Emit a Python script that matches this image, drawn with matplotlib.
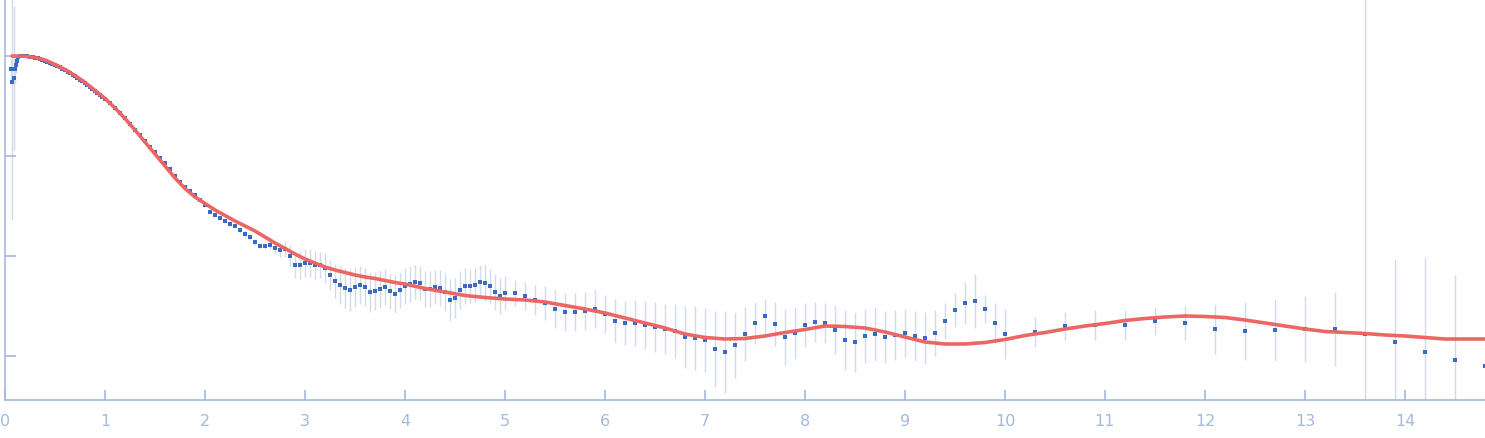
import matplotlib

matplotlib.use("Agg")
import matplotlib.pyplot as plt
import numpy as np

# scattering vector values
q = [
    # lowest angles
    0.06, 0.075, 0.085, 0.10, 0.11, 0.12, 0.13,
    # dense part
    0.15, 0.175, 0.2, 0.225, 0.25, 0.275, 0.3, 0.325, 0.35, 0.375,
    0.4, 0.425, 0.45, 0.475, 0.5, 0.525, 0.55, 0.575, 0.6, 0.625,
    0.65, 0.675, 0.7, 0.725, 0.75, 0.775, 0.8, 0.825, 0.85, 0.875,
    0.9, 0.925, 0.95, 0.975, 1.0,
    # step 0.05
    1.05, 1.10, 1.15, 1.20, 1.25, 1.30, 1.35, 1.40, 1.45, 1.50,
    1.55, 1.60, 1.65, 1.70, 1.75, 1.80, 1.85, 1.90, 1.95, 2.00,
    2.05, 2.10, 2.15, 2.20, 2.25, 2.30, 2.35, 2.40, 2.45, 2.50,
    2.55, 2.60, 2.65, 2.70, 2.75, 2.80, 2.85, 2.90, 2.95, 3.00,
    3.05, 3.10, 3.15, 3.20, 3.25, 3.30, 3.35, 3.40, 3.45, 3.50,
    3.55, 3.60, 3.65, 3.70, 3.75, 3.80, 3.85, 3.90, 3.95, 4.00,
    4.05, 4.10, 4.15, 4.20, 4.25, 4.30, 4.35, 4.40, 4.45, 4.50,
    4.55, 4.60, 4.65, 4.70, 4.75, 4.80, 4.85, 4.90, 4.95, 5.00,
    # step 0.1
    5.1, 5.2, 5.3, 5.4, 5.5, 5.6, 5.7, 5.8, 5.9, 6.0,
    6.1, 6.2, 6.3, 6.4, 6.5, 6.6, 6.7, 6.8, 6.9, 7.0,
    7.1, 7.2, 7.3, 7.4, 7.5, 7.6, 7.7, 7.8, 7.9, 8.0,
    8.1, 8.2, 8.3, 8.4, 8.5, 8.6, 8.7, 8.8, 8.9, 9.0,
    9.1, 9.2, 9.3, 9.4, 9.5, 9.6, 9.7, 9.8, 9.9, 10.0,
    # step 0.3
    10.3, 10.6, 10.9, 11.2, 11.5, 11.8, 12.1, 12.4, 12.7, 13.0,
    13.3, 13.6, 13.9, 14.2, 14.5, 14.8,
]

# log10 of the intensity
log_i = [
    -0.13, -0.26, -0.22, -0.13, -0.09, -0.05, -0.01,
    0.005, 0.005, 0.005, 0.0, -0.005, -0.01, -0.015, -0.02, -0.025, -0.035,
    -0.045, -0.055, -0.065, -0.08, -0.09, -0.10, -0.11, -0.125, -0.14, -0.155,
    -0.17, -0.185, -0.20, -0.22, -0.235, -0.25, -0.27, -0.29, -0.31, -0.33,
    -0.35, -0.37, -0.39, -0.41, -0.43,
    -0.47, -0.52, -0.57, -0.62, -0.68, -0.735, -0.79, -0.85, -0.91, -0.96,
    -1.02, -1.07, -1.13, -1.20, -1.26, -1.31, -1.35, -1.39, -1.435, -1.49,
    -1.555, -1.59, -1.62, -1.65, -1.68, -1.70, -1.74, -1.78, -1.81, -1.86,
    -1.90, -1.90, -1.89, -1.92, -1.94, -1.93, -2.00, -2.09, -2.09, -2.07,
    -2.07, -2.09, -2.09, -2.12, -2.19, -2.25, -2.29, -2.32, -2.34, -2.31,
    -2.29, -2.31, -2.36, -2.35, -2.33, -2.31, -2.35, -2.38, -2.34, -2.30,
    -2.28, -2.26, -2.27, -2.33, -2.33, -2.31, -2.32, -2.36, -2.44, -2.42,
    -2.34, -2.30, -2.30, -2.29, -2.26, -2.27, -2.30, -2.36, -2.40, -2.37,
    -2.37, -2.40, -2.44, -2.47, -2.53, -2.56, -2.56, -2.55, -2.53, -2.58,
    -2.65, -2.67, -2.67, -2.69, -2.71, -2.73, -2.75, -2.81, -2.82, -2.84,
    -2.93, -2.96, -2.89, -2.78, -2.67, -2.60, -2.68, -2.81, -2.77, -2.69,
    -2.66, -2.67, -2.74, -2.84, -2.86, -2.80, -2.78, -2.81, -2.79, -2.77,
    -2.80, -2.82, -2.77, -2.65, -2.54, -2.47, -2.45, -2.53, -2.67, -2.78,
    -2.76, -2.70, -2.69, -2.69, -2.65, -2.67, -2.73, -2.75, -2.74, -2.73,
    -2.73, -2.78, -2.86, -2.96, -3.04, -3.10,
]

# half length of each error bar, in decades
err_log = [
    0.10, 1.38, 0.72, 0.15, 0.08, 0.05, 0.03,
    0.005, 0.005, 0.005, 0.005, 0.005, 0.005, 0.005, 0.005, 0.005, 0.005,
    0.005, 0.005, 0.005, 0.005, 0.005, 0.005, 0.005, 0.005, 0.005, 0.005,
    0.005, 0.005, 0.005, 0.005, 0.005, 0.005, 0.005, 0.005, 0.005, 0.005,
    0.005, 0.005, 0.005, 0.005, 0.005,
    0.005, 0.005, 0.005, 0.005, 0.005, 0.005, 0.005, 0.005, 0.005, 0.005,
    0.005, 0.005, 0.005, 0.005, 0.005, 0.005, 0.01, 0.01, 0.01, 0.01,
    0.015, 0.015, 0.02, 0.02, 0.02, 0.02, 0.025, 0.03, 0.03, 0.03,
    0.03, 0.035, 0.045, 0.055, 0.07, 0.08, 0.11, 0.13, 0.14, 0.14,
    0.14, 0.14, 0.13, 0.15, 0.15, 0.17, 0.19, 0.20, 0.21, 0.20,
    0.19, 0.19, 0.20, 0.19, 0.19, 0.18, 0.18, 0.19, 0.18, 0.18,
    0.18, 0.17, 0.17, 0.18, 0.18, 0.17, 0.18, 0.19, 0.21, 0.20,
    0.19, 0.18, 0.17, 0.17, 0.17, 0.18, 0.17, 0.18, 0.18, 0.17,
    0.13, 0.14, 0.15, 0.17, 0.19, 0.19, 0.19, 0.19, 0.19, 0.19,
    0.22, 0.22, 0.23, 0.24, 0.25, 0.25, 0.27, 0.31, 0.32, 0.32,
    0.38, 0.41, 0.33, 0.27, 0.21, 0.17, 0.22, 0.28, 0.26, 0.22,
    0.20, 0.20, 0.24, 0.30, 0.30, 0.27, 0.27, 0.26, 0.25, 0.24,
    0.25, 0.26, 0.23, 0.18, 0.17, 0.21, 0.27, 0.14, 0.20, 0.25,
    0.15, 0.14, 0.15, 0.15, 0.14, 0.17, 0.25, 0.29, 0.31, 0.33,
    0.37, 3.5, 0.83, 0.95, 0.85, 0.0,
]

# fitted model curve
fit_q = [
    0.07, 0.2, 0.3, 0.4, 0.5, 0.6, 0.7, 0.8, 0.9, 1.0,
    1.1, 1.2, 1.3, 1.4, 1.5, 1.6, 1.7, 1.8, 1.9, 2.0,
    2.1, 2.2, 2.3, 2.4, 2.5, 2.6, 2.7, 2.8, 2.9, 3.0,
    3.1, 3.2, 3.3, 3.4, 3.5, 3.6, 3.7, 3.8, 3.9, 4.0,
    4.2, 4.4, 4.6, 4.8, 5.0, 5.2, 5.4, 5.6, 5.8, 6.0,
    6.2, 6.4, 6.6, 6.8, 7.0, 7.2, 7.4, 7.6, 7.8, 8.0,
    8.2, 8.4, 8.6, 8.8, 9.0, 9.2, 9.4, 9.6, 9.8, 10.0,
    10.2, 10.4, 10.6, 10.8, 11.0, 11.2, 11.4, 11.6, 11.8, 12.0,
    12.2, 12.4, 12.6, 12.8, 13.0, 13.2, 13.4, 13.6, 13.8, 14.0,
    14.2, 14.4, 14.6, 14.8,
]
fit_log_i = [
    0.0, -0.003, -0.015, -0.04, -0.085, -0.135, -0.195, -0.265, -0.345, -0.425,
    -0.52, -0.625, -0.74, -0.86, -0.98, -1.10, -1.22, -1.325, -1.41, -1.475,
    -1.54, -1.595, -1.65, -1.70, -1.75, -1.81, -1.87, -1.925, -1.98, -2.03,
    -2.07, -2.11, -2.14, -2.165, -2.19, -2.21, -2.225, -2.245, -2.265, -2.28,
    -2.325, -2.36, -2.395, -2.415, -2.43, -2.44, -2.46, -2.495, -2.53, -2.57,
    -2.62, -2.67, -2.72, -2.78, -2.815, -2.83, -2.825, -2.80, -2.765, -2.735,
    -2.70, -2.705, -2.72, -2.76, -2.81, -2.86, -2.88, -2.88, -2.865, -2.835,
    -2.795, -2.765, -2.73, -2.70, -2.675, -2.645, -2.625, -2.61, -2.60, -2.605,
    -2.615, -2.64, -2.67, -2.70, -2.73, -2.755, -2.765, -2.775, -2.79, -2.80,
    -2.815, -2.83, -2.83, -2.83,
]

axis_color = "#a5b8de"

intensity = 10 ** np.array(log_i)
err = np.array(err_log)
lower = intensity - intensity * 10 ** -err
upper = intensity * 10 ** err - intensity

fig = plt.figure(figsize=(14.85, 4.38), dpi=100)
ax = fig.add_axes([5 / 1485, 38 / 438, 1480 / 1485, 400 / 438])

ax.errorbar(
    q, intensity, yerr=[lower, upper], fmt="none",
    ecolor="#d2dbe9", elinewidth=1.0, capsize=0, zorder=1,
)
ax.plot(q, intensity, "s", color="#3a6bc3", ms=2.3, mew=0, zorder=2)
ax.plot(fit_q, 10 ** np.array(fit_log_i), color="#ec6664", lw=2.6,
        solid_capstyle="round", solid_joinstyle="round", zorder=3)

ax.set_yscale("log")
ax.set_xlim(0, 14.8)
ax.set_ylim(10 ** -3.44, 10 ** 0.56)
ax.set_xticks(range(0, 15))
ax.set_yticks([1, 0.1, 0.01, 0.001])
ax.yaxis.set_minor_locator(matplotlib.ticker.NullLocator())
ax.set_yticklabels([])

for side in ["top", "right"]:
    ax.spines[side].set_visible(False)
for side in ["left", "bottom"]:
    ax.spines[side].set_color(axis_color)
    ax.spines[side].set_linewidth(1.2)

ax.tick_params(axis="x", direction="in", length=7, width=1.2,
               color=axis_color, labelcolor=axis_color, labelsize=11.5, pad=10)
ax.tick_params(axis="y", direction="in", length=8, width=1.2,
               color=axis_color)

fig.savefig("out.png", dpi=100)
